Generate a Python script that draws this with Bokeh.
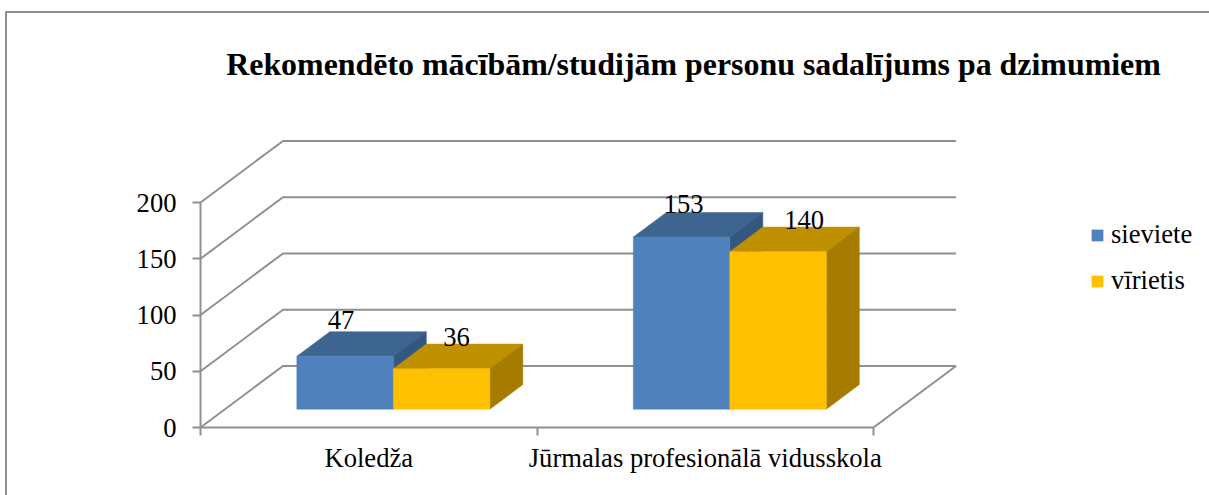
from bokeh.embed import file_html
from bokeh.resources import INLINE
from bokeh.plotting import figure
from bokeh.models import (ColumnDataSource, LinearAxis, FixedTicker, Legend, LegendItem,
                          Label, Range1d, BoxAnnotation)
from bokeh.core.properties import value

# ---- data ----
categories = ["Koledža", "Jūrmalas profesionālā vidusskola"]
sieviete = [47, 153]
virietis = [36, 140]
series_names = ["sieviete", "vīrietis"]
y_ticks = [0, 50, 100, 150, 200]
title_text = "Rekomendēto mācībām/studijām personu sadalījums pa dzimumiem"

# ---- layout ----
W, H = 1209, 495
X0_PX, Y0_PX = 200.0, 427.0      # where the origin of the axes falls on the page
PX_PER_CAT = 336.5
PX_PER_VAL = 1.125
FLOOR_DX = 82.5 / PX_PER_CAT     # the full depth of the box in data units
FLOOR_DY = 61.5 / PX_PER_VAL
BAR_WIDTH = 96.5 / PX_PER_CAT
DEPTH_FRONT = 0.298              # share of the depth at which bars start
DEPTH_BACK = 0.698
FONT = "Liberation Serif"
TXT = "26.6px"
GRID = "#8f8f8f"

def xpx(px):
    return (px - X0_PX) / PX_PER_CAT

def vpx(py):
    return (Y0_PX - py) / PX_PER_VAL

def proj(x, v, d):
    return x + d * FLOOR_DX, v + d * FLOOR_DY

p = figure(width=W, height=H, output_backend="svg", toolbar_location=None,
           x_range=Range1d(xpx(0), xpx(W)), y_range=Range1d(vpx(H), vpx(0)),
           x_axis_type=None, y_axis_type=None, min_border=0,
           outline_line_color=None, background_fill_color="white",
           margin=(0, 0, 0, 0))
p.xgrid.visible = False
p.ygrid.visible = False

# chart border (its right and bottom edges lie outside the picture)
p.add_layout(BoxAnnotation(left=xpx(5.5), right=xpx(1300), top=vpx(11.5), bottom=vpx(600),
                           fill_alpha=0, line_color=GRID, line_alpha=1, line_width=2))

# walls and floor
x_max = float(len(categories))
for t in y_ticks:
    a = proj(0, t, 0); b = proj(0, t, 1); c = proj(x_max, t, 1)
    p.line([a[0], b[0], c[0]], [a[1], b[1], c[1]], line_color=GRID, line_width=2)
a = proj(x_max, 0, 0); b = proj(x_max, 0, 1)
p.line([a[0], b[0]], [a[1], b[1]], line_color=GRID, line_width=2)

# bars
styles = [("#4F81BD", "#3E6590", "#345780"), ("#FFC000", "#BF9000", "#A67C00")]
fronts = []
for s, (vals, (front, top, side)) in enumerate(zip([sieviete, virietis], styles)):
    left, right, bottom, upper = [], [], [], []
    tx, ty, sx, sy = [], [], [], []
    for i, v in enumerate(vals):
        x1 = i + 0.5 - BAR_WIDTH + s * BAR_WIDTH
        x2 = x1 + BAR_WIDTH
        fl = proj(x1, 0, DEPTH_FRONT); fr = proj(x2, 0, DEPTH_FRONT)
        left.append(fl[0]); right.append(fr[0]); bottom.append(fl[1]); upper.append(fl[1] + v)
        pts = [proj(x1, v, DEPTH_FRONT), proj(x1, v, DEPTH_BACK), proj(x2, v, DEPTH_BACK), proj(x2, v, DEPTH_FRONT)]
        tx.append([q[0] for q in pts]); ty.append([q[1] for q in pts])
        pts = [proj(x2, 0, DEPTH_FRONT), proj(x2, 0, DEPTH_BACK), proj(x2, v, DEPTH_BACK), proj(x2, v, DEPTH_FRONT)]
        sx.append([q[0] for q in pts]); sy.append([q[1] for q in pts])
    p.patches(tx, ty, fill_color=top, line_color=top, line_width=0.5)
    p.patches(sx, sy, fill_color=side, line_color=side, line_width=0.5)
    r = p.quad(left=left, right=right, bottom=bottom, top=upper, fill_color=front, line_color=front, line_width=0.5)
    fronts.append(r)

# value labels
label_dx = [[-4, 2], [15, 26]]
label_dy = [[-12, -8], [-7, -7]]
for s, vals in enumerate([sieviete, virietis]):
    xs, ys = [], []
    for i, v in enumerate(vals):
        q = proj(i + 0.5 - BAR_WIDTH / 2 + s * BAR_WIDTH, v, DEPTH_FRONT)
        xs.append(q[0]); ys.append(q[1] + (DEPTH_BACK - DEPTH_FRONT) * FLOOR_DY)
    src = ColumnDataSource(dict(x=xs, y=ys, t=[str(v) for v in vals],
                                xo=label_dx[s], yo=label_dy[s]))
    p.text("x", "y", text="t", source=src, x_offset="xo", y_offset="yo",
           text_font=value(FONT), text_font_size=TXT, text_color="black",
           text_align="center", text_baseline="alphabetic")

# axes
yax = LinearAxis(fixed_location=0, ticker=FixedTicker(ticks=y_ticks), bounds=(y_ticks[0], y_ticks[-1]))
yax.axis_line_color = GRID; yax.axis_line_width = 2
yax.major_tick_line_color = GRID; yax.major_tick_line_width = 2
yax.major_tick_in = 0; yax.major_tick_out = 8
yax.minor_tick_line_color = None
yax.major_label_text_font = FONT; yax.major_label_text_font_size = TXT
yax.major_label_text_color = "black"; yax.major_label_standoff = 16
p.add_layout(yax, "left")

xax = LinearAxis(fixed_location=0, ticker=FixedTicker(ticks=list(range(len(categories) + 1))),
                 bounds=(0, len(categories)))
xax.axis_line_color = GRID; xax.axis_line_width = 2
xax.major_tick_line_color = GRID; xax.major_tick_line_width = 2
xax.major_tick_in = 0; xax.major_tick_out = 8
xax.minor_tick_line_color = None
xax.major_label_text_color = None
p.add_layout(xax, "below")

xlab = LinearAxis(fixed_location=0, ticker=FixedTicker(ticks=[i + 0.5 for i in range(len(categories))]),
                  major_label_overrides={i + 0.5: c for i, c in enumerate(categories)})
xlab.axis_line_color = None; xlab.major_tick_line_color = None; xlab.minor_tick_line_color = None
xlab.major_label_text_font = FONT; xlab.major_label_text_font_size = TXT
xlab.major_label_text_color = "black"; xlab.major_label_standoff = 9
p.add_layout(xlab, "below")

# title
p.add_layout(Label(x=xpx(693), y=vpx(63.5), text=title_text, text_align="center",
                   text_baseline="alphabetic", text_font=FONT, text_font_size="31.9px",
                   text_font_style="bold", text_color="black"))

# legend
leg = Legend(items=[LegendItem(label=n, renderers=[r]) for n, r in zip(series_names, fronts)],
             location=(1090, 495 - 296), orientation="vertical", glyph_width=14, glyph_height=14,
             label_standoff=7, spacing=15, padding=0, margin=0,
             background_fill_alpha=0, border_line_color=None,
             label_text_font=FONT, label_text_font_size=TXT, label_text_color="black")
p.add_layout(leg)

open("out.html", "w").write(file_html(p, INLINE))
